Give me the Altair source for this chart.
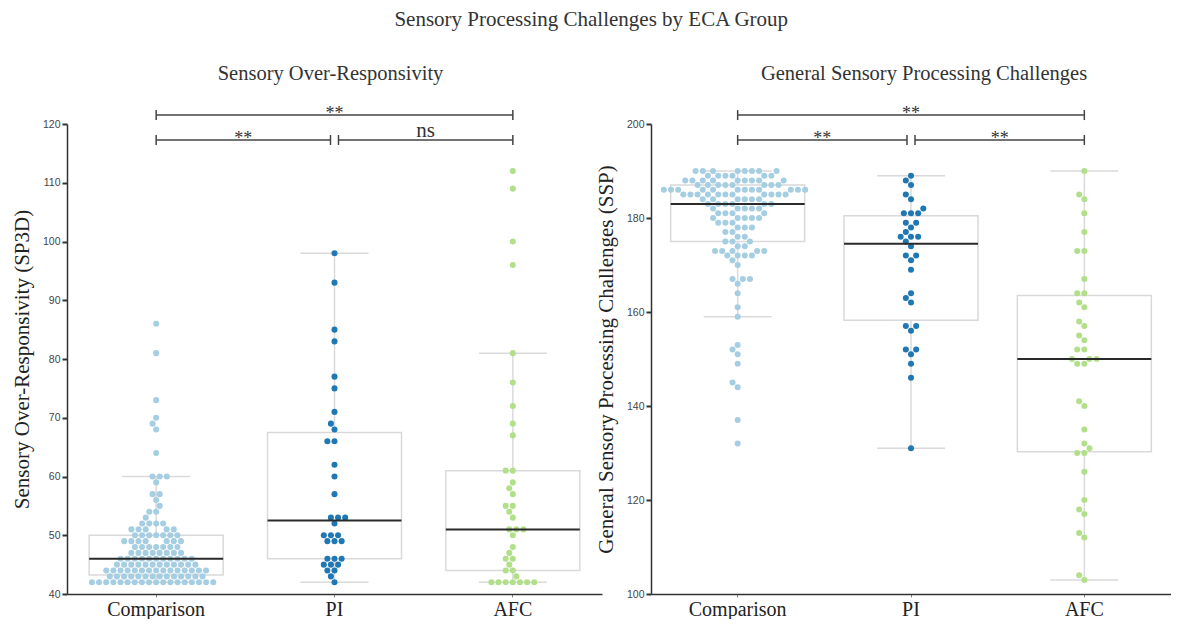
import altair as alt
import numpy as np
import pandas as pd

groups = ["Comparison", "PI", "AFC"]
colors = ["#a6cee3", "#1f78b4", "#b2df8a"]

# ---- Sensory Over-Responsivity (SP3D) ----
sor_comparison_values = [42, 43, 44, 45, 46, 47, 48, 49, 50, 51, 52, 53, 54, 55, 56, 57, 59, 60, 64, 68, 69, 70, 73, 81, 86]
sor_comparison_counts = [18, 14, 15, 12, 11, 8, 7, 7, 7, 5, 4, 1, 2, 1, 1, 2, 1, 3, 1, 1, 1, 1, 1, 1, 1]
sor_pi = [98, 93, 85, 83, 77, 75, 71, 69, 68, 66, 66, 62, 60, 57, 53, 53, 53, 52, 50, 50, 50,
          49, 49, 49, 46, 46, 46, 45, 45, 45, 44, 44, 43, 42]
sor_afc = [112, 109, 100, 96, 81, 76, 72, 69, 67, 61, 61, 59, 58, 57, 55, 55, 54, 53, 51, 51, 51,
           50, 48, 47, 46, 46, 45, 44, 44, 43, 42, 42, 42, 42, 42, 42, 42]

# ---- General Sensory Processing Challenges (SSP) ----
gsp_comparison_values = [132, 137, 144, 145, 149, 151, 152, 153, 159, 161, 164, 166, 167, 170, 171, 172, 173,
                         174, 175, 176, 177, 178, 179, 180, 181, 182, 183, 184, 185, 186, 187, 188, 189, 190]
gsp_comparison_counts = [1, 1, 1, 1, 1, 1, 1, 1, 1, 1, 1, 1, 3, 1, 1, 4, 5,
                         2, 3, 2, 2, 3, 3, 5, 4, 5, 6, 6, 11, 12, 8, 9, 6, 8]
gsp_pi = [189, 188, 187, 185, 184, 182, 181, 181, 181, 179, 179, 178, 177, 176, 176, 176, 175, 174,
          172, 172, 171, 169, 164, 163, 162, 157, 157, 156, 152, 152, 151, 149, 146, 131]
gsp_afc = [190, 185, 184, 181, 177, 173, 173, 167, 164, 164, 162, 161, 158, 157, 155, 154, 152, 152,
           150, 150, 150, 149, 149, 141, 140, 135, 132, 131, 130, 130, 126, 120, 118, 117, 113, 112, 104, 103]

sor_brackets = [("Comparison", "AFC", "**", "top"), ("Comparison", "PI", "**", "low"), ("PI", "AFC", "ns", "low")]
gsp_brackets = [("Comparison", "AFC", "**", "top"), ("Comparison", "PI", "**", "low"), ("PI", "AFC", "**", "low")]

SERIF = "Liberation Serif"
SANS = "Liberation Sans"
H = 470
R = 3.4  # dot radius in px
BOX = 134


def swarm_offsets(ypx, r):
    """Beeswarm layout (same approach as seaborn's swarmplot), in pixels."""
    order = np.argsort(ypx, kind="stable")
    placed = []
    out = np.zeros(len(ypx))
    for idx in order:
        y = ypx[idx]
        neighbors = [(xj, yj) for (xj, yj) in reversed(placed) if (y - yj) < 2 * r]
        cands = [0.0]
        left_first = True
        for xj, yj in neighbors:
            dy = y - yj
            dx = np.sqrt(max(4 * r * r - dy * dy, 0.0)) * 1.05
            cl, cr = xj - dx, xj + dx
            cands += [cl, cr] if left_first else [cr, cl]
            left_first = not left_first
        cands = sorted(cands, key=abs)
        chosen = cands[0]
        for c in cands:
            if all((xj - c) ** 2 + (yj - y) ** 2 >= 4 * r * r - 1e-6 for xj, yj in neighbors):
                chosen = c
                break
        placed.append((chosen, y))
        out[idx] = chosen
    return out


def panel(data_lists, ymin, ymax, ystep, ytitle, title, brackets, W, title_dx):
    step = W / 3.0
    rows = []
    for gi, (g, vals) in enumerate(zip(groups, data_lists)):
        vals = np.asarray(vals, dtype=float)
        ypx = (vals - ymin) / (ymax - ymin) * H
        offs = swarm_offsets(ypx, R)
        for v, o in zip(vals, offs):
            rows.append({"group": g, "gi": gi, "value": v, "xpos": gi + o / step})
    df = pd.DataFrame(rows)

    rng = ymax - ymin
    levels = {"top": ymax + 0.019 * rng, "low": ymax - 0.034 * rng}
    gap = 4.0 / step
    br_rows, end_rows = [], []
    for a, b, lab, lev in brackets:
        x1, x2 = groups.index(a), groups.index(b)
        if lev == "low":
            if b == "PI":
                x2 -= gap
            if a == "PI":
                x1 += gap
        yv = levels[lev]
        br_rows.append({"x1": x1, "x2": x2, "xm": (x1 + x2) / 2, "value": yv, "label": lab})
        end_rows += [{"x": x1, "value": yv}, {"x": x2, "value": yv}]
    brdf = pd.DataFrame(br_rows)
    enddf = pd.DataFrame(end_rows)

    yscale = alt.Scale(domain=[ymin, ymax], nice=False, zero=False)
    yenc = alt.Y("value:Q", scale=yscale,
                 axis=alt.Axis(values=list(range(ymin, ymax + 1, ystep)), title=ytitle))
    xlin_scale = alt.Scale(domain=[-0.5, 2.5], nice=False, zero=False)

    box = alt.Chart(df).mark_boxplot(
        extent=1.5, size=BOX, outliers=False, color="white",
        box={"fill": "white", "stroke": "#d9d9d9", "strokeWidth": 1.5},
        median=False,
        rule={"color": "#dadada", "strokeWidth": 1.5},
        ticks={"color": "#dadada", "size": 68, "thickness": 1.5, "opacity": 1},
    ).encode(
        x=alt.X("group:N", sort=groups,
                scale=alt.Scale(domain=groups, paddingInner=0, paddingOuter=0),
                axis=alt.Axis(title=None, labelAngle=0)),
        y=yenc,
    )

    pts = alt.Chart(df).mark_circle(size=float(np.pi * R * R), opacity=1).encode(
        x=alt.X("xpos:Q", scale=xlin_scale, axis=None),
        y=alt.Y("value:Q", scale=yscale),
        color=alt.Color("group:N", scale=alt.Scale(domain=groups, range=colors), legend=None),
    )

    med = alt.Chart(df).transform_aggregate(
        value="median(value)", groupby=["group", "gi"]
    ).mark_tick(orient="horizontal", size=BOX, thickness=2, color="#2a2a2a", opacity=1).encode(
        x=alt.X("gi:Q", scale=xlin_scale, axis=None),
        y=alt.Y("value:Q", scale=yscale),
    )

    brule = alt.Chart(brdf).mark_rule(color="#444", strokeWidth=1.5).encode(
        x=alt.X("x1:Q", scale=xlin_scale, axis=None), x2="x2:Q",
        y=alt.Y("value:Q", scale=yscale),
    )
    bends = alt.Chart(enddf).mark_tick(orient="vertical", size=10, thickness=1.5, color="#444",
                                       opacity=1).encode(
        x=alt.X("x:Q", scale=xlin_scale, axis=None),
        y=alt.Y("value:Q", scale=yscale),
    )
    btxt_star = alt.Chart(brdf).transform_filter(alt.datum.label == "**").mark_text(
        font=SERIF, fontSize=18, baseline="alphabetic", dy=4, color="#333"
    ).encode(
        x=alt.X("xm:Q", scale=xlin_scale, axis=None),
        y=alt.Y("value:Q", scale=yscale), text="label:N",
    )
    btxt_ns = alt.Chart(brdf).transform_filter(alt.datum.label == "ns").mark_text(
        font=SERIF, fontSize=21, baseline="alphabetic", dy=-3, color="#333"
    ).encode(
        x=alt.X("xm:Q", scale=xlin_scale, axis=None),
        y=alt.Y("value:Q", scale=yscale), text="label:N",
    )

    return alt.layer(box, pts, med, brule, bends, btxt_star, btxt_ns).resolve_scale(
        x="independent"
    ).properties(
        width=W, height=H,
        title=alt.TitleParams(title, font=SERIF, fontSize=20.5, fontWeight="normal",
                              color="#333", anchor="middle", frame="group", dx=title_dx, offset=21),
    )


sor_comp = np.repeat(sor_comparison_values, sor_comparison_counts)
gsp_comp = np.repeat(gsp_comparison_values, gsp_comparison_counts)

left = panel([sor_comp, sor_pi, sor_afc], 40, 120, 10,
             "Sensory Over-Responsivity (SP3D)", "Sensory Over-Responsivity", sor_brackets, 535, -4)
right = panel([gsp_comp, gsp_pi, gsp_afc], 100, 200, 20,
              "General Sensory Processing Challenges (SSP)", "General Sensory Processing Challenges",
              gsp_brackets, 520, 13)

chart = alt.hconcat(left, right, spacing=49, bounds="flush").properties(
    title=alt.TitleParams("Sensory Processing Challenges by ECA Group", font=SERIF, fontSize=21,
                          fontWeight="normal", color="#333", anchor="middle", offset=31, dy=-3),
    padding={"left": 3, "top": 0, "right": 0, "bottom": 0},
).configure_view(stroke=None).configure_axisY(
    domainColor="#333", domainWidth=1.5, tickColor="#333", tickWidth=2, tickSize=5,
    labelFont=SANS, labelFontSize=10.5, labelColor="#444", labelPadding=2,
    titleFont=SERIF, titleFontSize=21, titleFontWeight="normal", titleColor="#222", titlePadding=10,
    grid=False,
).configure_axisX(
    domainColor="#333", domainWidth=1.5, tickColor="#888", tickWidth=1, tickSize=3,
    labelFont=SERIF, labelFontSize=20, labelColor="#222", labelPadding=2, grid=False,
)

chart.save("out.html", embed_options={"renderer": "svg", "actions": False})
